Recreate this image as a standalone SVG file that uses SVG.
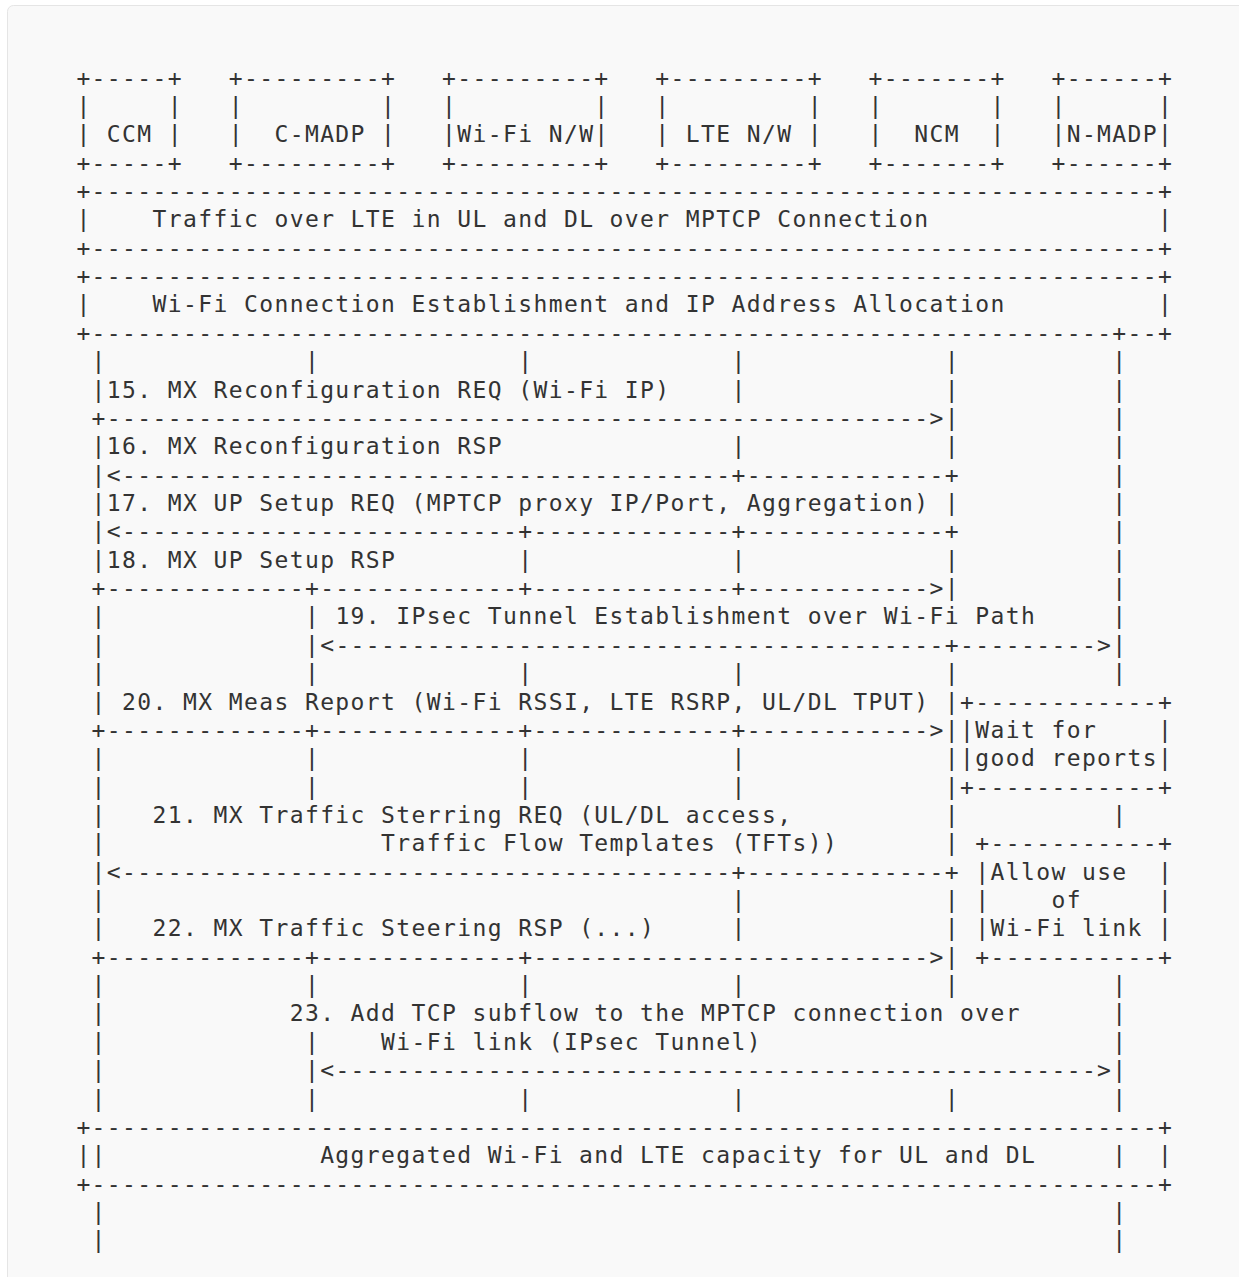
<svg xmlns="http://www.w3.org/2000/svg" width="1239" height="1277" viewBox="0 0 1239 1277" xml:space="preserve">
<style>
text{font-family:"DejaVu Sans Mono","Liberation Mono",monospace;font-size:23px;letter-spacing:1.388px;fill:#333;white-space:pre}
</style>
<rect width="1239" height="1277" fill="#ffffff"/>
<rect x="7.5" y="5.5" width="1260" height="1300" rx="6" fill="#f9f9f9" stroke="#e5e5e5"/>
<g id="node-ccm">
<text x="76.38" y="85.6">+-----+</text>
<text y="113.96"><tspan x="76.38">|</tspan><tspan x="167.80">|</tspan></text>
<text x="76.38" y="142.32">| CCM |</text>
<text x="76.38" y="170.68">+-----+</text>
</g>
<g id="node-c-madp">
<text x="228.73" y="85.6">+---------+</text>
<text y="113.96"><tspan x="228.73">|</tspan><tspan x="381.08">|</tspan></text>
<text x="228.73" y="142.32">|  C-MADP |</text>
<text x="228.73" y="170.68">+---------+</text>
</g>
<g id="node-wifi-nw">
<text x="442.02" y="85.6">+---------+</text>
<text y="113.96"><tspan x="442.02">|</tspan><tspan x="594.37">|</tspan></text>
<text x="442.02" y="142.32">|Wi-Fi N/W|</text>
<text x="442.02" y="170.68">+---------+</text>
</g>
<g id="node-lte-nw">
<text x="655.31" y="85.6">+---------+</text>
<text y="113.96"><tspan x="655.31">|</tspan><tspan x="807.66">|</tspan></text>
<text x="655.31" y="142.32">| LTE N/W |</text>
<text x="655.31" y="170.68">+---------+</text>
</g>
<g id="node-ncm">
<text x="868.60" y="85.6">+-------+</text>
<text y="113.96"><tspan x="868.60">|</tspan><tspan x="990.48">|</tspan></text>
<text x="868.60" y="142.32">|  NCM  |</text>
<text x="868.60" y="170.68">+-------+</text>
</g>
<g id="node-n-madp">
<text x="1051.42" y="85.6">+------+</text>
<text y="113.96"><tspan x="1051.42">|</tspan><tspan x="1158.07">|</tspan></text>
<text x="1051.42" y="142.32">|N-MADP|</text>
<text x="1051.42" y="170.68">+------+</text>
</g>
<g id="node-traffic-lte">
<text y="199.04"><tspan x="76.38">+</tspan><tspan x="91.62">----------------------------------------------------------------------</tspan><tspan x="1158.07">+</tspan></text>
<text y="227.4"><tspan x="76.38">|</tspan><tspan x="152.56">Traffic over LTE in UL and DL over MPTCP Connection</tspan><tspan x="1158.07">|</tspan></text>
<text y="255.76"><tspan x="76.38">+</tspan><tspan x="91.62">----------------------------------------------------------------------</tspan><tspan x="1158.07">+</tspan></text>
</g>
<g id="node-wifi-connection">
<text y="284.12"><tspan x="76.38">+</tspan><tspan x="91.62">----------------------------------------------------------------------</tspan><tspan x="1158.07">+</tspan></text>
<text y="312.48"><tspan x="76.38">|</tspan><tspan x="152.56">Wi-Fi Connection Establishment and IP Address Allocation</tspan><tspan x="1158.07">|</tspan></text>
<text y="340.84"><tspan x="76.38">+</tspan><tspan x="91.62">-------------------------------------------------------------------</tspan><tspan x="1112.36">+--+</tspan></text>
</g>
<g id="node-wait-good-reports">
<text x="960.01" y="709.52">+------------+</text>
<text y="737.88"><tspan x="960.01">|Wait for</tspan><tspan x="1158.07">|</tspan></text>
<text y="766.24"><tspan x="960.01">|good reports|</tspan></text>
<text x="960.01" y="794.6">+------------+</text>
</g>
<g id="node-allow-wifi-link">
<text x="975.25" y="851.32">+-----------+</text>
<text y="879.68"><tspan x="975.25">|Allow use</tspan><tspan x="1158.07">|</tspan></text>
<text y="908.04"><tspan x="975.25">|</tspan><tspan x="1051.42">of</tspan><tspan x="1158.07">|</tspan></text>
<text y="936.4"><tspan x="975.25">|Wi-Fi link</tspan><tspan x="1158.07">|</tspan></text>
<text x="975.25" y="964.76">+-----------+</text>
</g>
<g id="node-aggregated">
<text y="1134.92"><tspan x="76.38">+</tspan><tspan x="91.62">----------------------------------------------------------------------</tspan><tspan x="1158.07">+</tspan></text>
<text y="1163.28"><tspan x="76.38">||</tspan><tspan x="320.14">Aggregated Wi-Fi and LTE capacity for UL and DL</tspan><tspan x="1112.36">|</tspan><tspan x="1158.07">|</tspan></text>
<text y="1191.64"><tspan x="76.38">+</tspan><tspan x="91.62">----------------------------------------------------------------------</tspan><tspan x="1158.07">+</tspan></text>
</g>
<g id="connectors">
<text y="369.2"><tspan x="91.62">|</tspan><tspan x="304.91">|</tspan><tspan x="518.20">|</tspan><tspan x="731.49">|</tspan><tspan x="944.78">|</tspan><tspan x="1112.36">|</tspan></text>
<text y="397.56"><tspan x="91.62">|15. MX Reconfiguration REQ (Wi-Fi IP)</tspan><tspan x="731.49">|</tspan><tspan x="944.78">|</tspan><tspan x="1112.36">|</tspan></text>
<text y="425.92"><tspan x="91.62">+</tspan><tspan x="106.85">------------------------------------------------------</tspan><tspan x="929.54">&gt;|</tspan><tspan x="1112.36">|</tspan></text>
<text y="454.28"><tspan x="91.62">|16. MX Reconfiguration RSP</tspan><tspan x="731.49">|</tspan><tspan x="944.78">|</tspan><tspan x="1112.36">|</tspan></text>
<text y="482.64"><tspan x="91.62">|&lt;</tspan><tspan x="122.09">----------------------------------------</tspan><tspan x="731.49">+</tspan><tspan x="746.72">-------------</tspan><tspan x="944.78">+</tspan><tspan x="1112.36">|</tspan></text>
<text y="511"><tspan x="91.62">|17. MX UP Setup REQ (MPTCP proxy IP/Port, Aggregation)</tspan><tspan x="944.78">|</tspan><tspan x="1112.36">|</tspan></text>
<text y="539.36"><tspan x="91.62">|&lt;</tspan><tspan x="122.09">--------------------------</tspan><tspan x="518.20">+</tspan><tspan x="533.43">-------------</tspan><tspan x="731.49">+</tspan><tspan x="746.72">-------------</tspan><tspan x="944.78">+</tspan><tspan x="1112.36">|</tspan></text>
<text y="567.72"><tspan x="91.62">|18. MX UP Setup RSP</tspan><tspan x="518.20">|</tspan><tspan x="731.49">|</tspan><tspan x="944.78">|</tspan><tspan x="1112.36">|</tspan></text>
<text y="596.08"><tspan x="91.62">+</tspan><tspan x="106.85">-------------</tspan><tspan x="304.91">+</tspan><tspan x="320.14">-------------</tspan><tspan x="518.20">+</tspan><tspan x="533.43">-------------</tspan><tspan x="731.49">+</tspan><tspan x="746.72">------------</tspan><tspan x="929.54">&gt;|</tspan><tspan x="1112.36">|</tspan></text>
<text y="624.44"><tspan x="91.62">|</tspan><tspan x="304.91">| 19. IPsec Tunnel Establishment over Wi-Fi Path</tspan><tspan x="1112.36">|</tspan></text>
<text y="652.8"><tspan x="91.62">|</tspan><tspan x="304.91">|&lt;</tspan><tspan x="335.38">----------------------------------------</tspan><tspan x="944.78">+</tspan><tspan x="960.01">---------</tspan><tspan x="1097.12">&gt;|</tspan></text>
<text y="681.16"><tspan x="91.62">|</tspan><tspan x="304.91">|</tspan><tspan x="518.20">|</tspan><tspan x="731.49">|</tspan><tspan x="944.78">|</tspan><tspan x="1112.36">|</tspan></text>
<text y="709.52"><tspan x="91.62">| 20. MX Meas Report (Wi-Fi RSSI, LTE RSRP, UL/DL TPUT)</tspan><tspan x="944.78">|</tspan></text>
<text y="737.88"><tspan x="91.62">+</tspan><tspan x="106.85">-------------</tspan><tspan x="304.91">+</tspan><tspan x="320.14">-------------</tspan><tspan x="518.20">+</tspan><tspan x="533.43">-------------</tspan><tspan x="731.49">+</tspan><tspan x="746.72">------------</tspan><tspan x="929.54">&gt;|</tspan></text>
<text y="766.24"><tspan x="91.62">|</tspan><tspan x="304.91">|</tspan><tspan x="518.20">|</tspan><tspan x="731.49">|</tspan><tspan x="944.78">|</tspan></text>
<text y="794.6"><tspan x="91.62">|</tspan><tspan x="304.91">|</tspan><tspan x="518.20">|</tspan><tspan x="731.49">|</tspan><tspan x="944.78">|</tspan></text>
<text y="822.96"><tspan x="91.62">|</tspan><tspan x="152.56">21. MX Traffic Sterring REQ (UL/DL access,</tspan><tspan x="944.78">|</tspan><tspan x="1112.36">|</tspan></text>
<text y="851.32"><tspan x="91.62">|</tspan><tspan x="381.08">Traffic Flow Templates (TFTs))</tspan><tspan x="944.78">|</tspan></text>
<text y="879.68"><tspan x="91.62">|&lt;</tspan><tspan x="122.09">----------------------------------------</tspan><tspan x="731.49">+</tspan><tspan x="746.72">-------------</tspan><tspan x="944.78">+</tspan></text>
<text y="908.04"><tspan x="91.62">|</tspan><tspan x="731.49">|</tspan><tspan x="944.78">|</tspan></text>
<text y="936.4"><tspan x="91.62">|</tspan><tspan x="152.56">22. MX Traffic Steering RSP (...)</tspan><tspan x="731.49">|</tspan><tspan x="944.78">|</tspan></text>
<text y="964.76"><tspan x="91.62">+</tspan><tspan x="106.85">-------------</tspan><tspan x="304.91">+</tspan><tspan x="320.14">-------------</tspan><tspan x="518.20">+</tspan><tspan x="533.43">--------------------------</tspan><tspan x="929.54">&gt;|</tspan></text>
<text y="993.12"><tspan x="91.62">|</tspan><tspan x="304.91">|</tspan><tspan x="518.20">|</tspan><tspan x="731.49">|</tspan><tspan x="944.78">|</tspan><tspan x="1112.36">|</tspan></text>
<text y="1021.48"><tspan x="91.62">|</tspan><tspan x="289.67">23. Add TCP subflow to the MPTCP connection over</tspan><tspan x="1112.36">|</tspan></text>
<text y="1049.84"><tspan x="91.62">|</tspan><tspan x="304.91">|</tspan><tspan x="381.08">Wi-Fi link (IPsec Tunnel)</tspan><tspan x="1112.36">|</tspan></text>
<text y="1078.2"><tspan x="91.62">|</tspan><tspan x="304.91">|&lt;</tspan><tspan x="335.38">--------------------------------------------------</tspan><tspan x="1097.12">&gt;|</tspan></text>
<text y="1106.56"><tspan x="91.62">|</tspan><tspan x="304.91">|</tspan><tspan x="518.20">|</tspan><tspan x="731.49">|</tspan><tspan x="944.78">|</tspan><tspan x="1112.36">|</tspan></text>
<text y="1220"><tspan x="91.62">|</tspan><tspan x="1112.36">|</tspan></text>
<text y="1248.36"><tspan x="91.62">|</tspan><tspan x="1112.36">|</tspan></text>
</g>
</svg>
